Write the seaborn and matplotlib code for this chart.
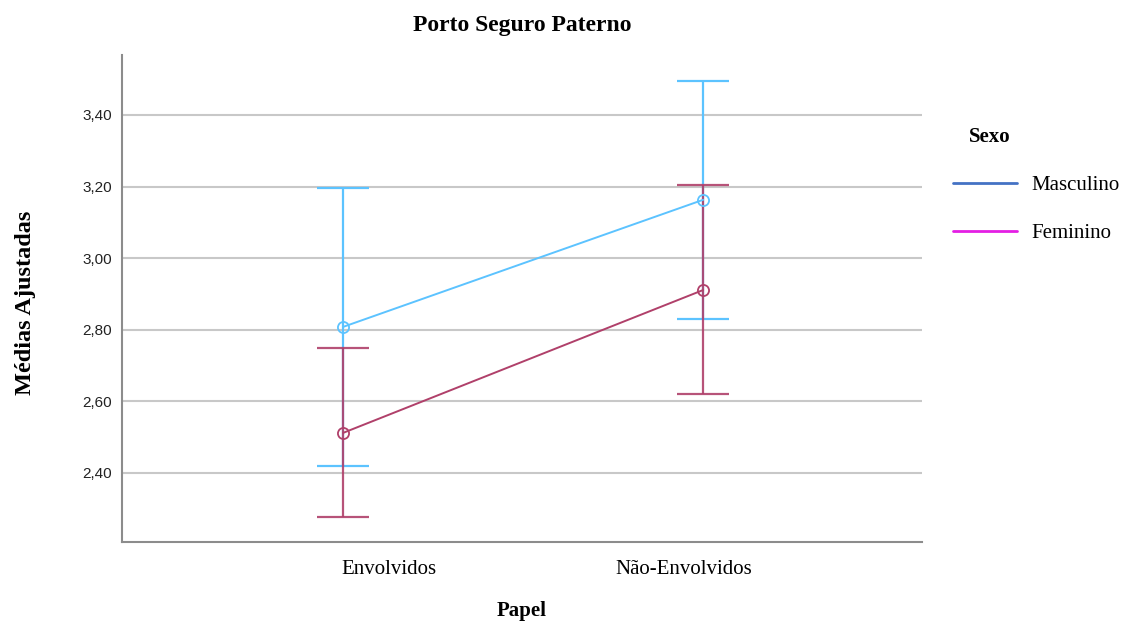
import pandas as pd
import matplotlib.pyplot as plt
import seaborn as sns
from matplotlib.lines import Line2D
from matplotlib.transforms import ScaledTranslation

# Dados (medias ajustadas e IC 95%)
papel = ['Envolvidos', 'Não-Envolvidos']
media_masc = [2.808, 3.163]
inf_masc = [2.420, 2.830]
sup_masc = [3.196, 3.495]
media_fem = [2.512, 2.911]
inf_fem = [2.277, 2.621]
sup_fem = [2.749, 3.204]

df = pd.DataFrame({
    'Papel': papel * 2,
    'Sexo': ['Masculino'] * 2 + ['Feminino'] * 2,
    'Media': media_masc + media_fem,
    'Inf': inf_masc + inf_fem,
    'Sup': sup_masc + sup_fem,
})

cores = {'Masculino': '#5cc3ff', 'Feminino': '#b0406a'}
cores_legenda = {'Masculino': '#4472c4', 'Feminino': '#e41ee4'}

sns.set_theme(style='white')
plt.rcParams['font.family'] = ['Liberation Serif', 'DejaVu Serif']
plt.rcParams['text.color'] = 'black'
plt.rcParams['axes.labelcolor'] = 'black'

fig = plt.figure(figsize=(11.3, 6.37), dpi=100)
ax = fig.add_axes([0.108, 0.149, 0.708, 0.765])

for sexo in ['Masculino', 'Feminino']:
    g = df[df['Sexo'] == sexo]
    c = cores[sexo]
    sns.lineplot(data=g, x='Papel', y='Media', color=c, marker='o', markersize=8,
                 markerfacecolor='none', markeredgecolor=c, markeredgewidth=1.3,
                 linewidth=1.4, legend=False, ax=ax, zorder=3)
    ax.errorbar(g['Papel'], g['Media'],
                yerr=[g['Media'] - g['Inf'], g['Sup'] - g['Media']],
                fmt='none', ecolor=c, capsize=19, elinewidth=1.6, capthick=1.6,
                alpha=0.9 if sexo == 'Feminino' else 1, zorder=2)

ax.set_xlim(-0.614, 1.608)
ax.set_ylim(2.207, 3.568)
ticks = [2.4, 2.6, 2.8, 3.0, 3.2, 3.4]
ax.set_yticks(ticks)
ax.set_yticklabels([f'{t:.2f}'.replace('.', ',') for t in ticks],
                   fontfamily='Liberation Sans', fontsize=11, color='#222222')
ax.yaxis.grid(True, color='#c8c8c8', linewidth=1.5)
ax.set_axisbelow(True)
ax.tick_params(axis='y', length=0, pad=7)
ax.tick_params(axis='x', length=0, pad=13)

for lab in ax.get_xticklabels():
    lab.set_fontsize(15)
    lab.set_fontfamily('Liberation Serif')
    lab.set_color('black')
# deslocamento dos rotulos do eixo x como no original
desloc = {'Envolvidos': 33, 'Não-Envolvidos': -14}
for lab in ax.get_xticklabels():
    dx = desloc.get(lab.get_text(), 0)
    lab.set_transform(lab.get_transform() + ScaledTranslation(dx / 72, 0, fig.dpi_scale_trans))

for lado in ['top', 'right']:
    ax.spines[lado].set_visible(False)
for lado in ['left', 'bottom']:
    ax.spines[lado].set_color('#8c8c8c')
    ax.spines[lado].set_linewidth(1.5)

ax.set_xlabel('Papel', fontsize=15, fontweight='bold', labelpad=16)
ax.set_ylabel('Médias Ajustadas', fontsize=17.5, fontweight='bold')
ax.yaxis.set_label_coords(-0.108, 0.491)
ax.set_title('Porto Seguro Paterno', fontsize=17, fontweight='bold', pad=17)

fig.text(0.876, 0.785, 'Sexo', fontsize=15, fontweight='bold', ha='center', va='center')
handles = [Line2D([0], [0], color=cores_legenda[s], lw=2) for s in ['Masculino', 'Feminino']]
leg = fig.legend(handles, ['Masculino', 'Feminino'], loc='upper left',
                 bbox_to_anchor=(0.843, 0.724), frameon=False, fontsize=15,
                 handlelength=3.1, labelspacing=1.35, handletextpad=0.7,
                 borderaxespad=0, borderpad=0)

fig.savefig('out.png', dpi=100)
